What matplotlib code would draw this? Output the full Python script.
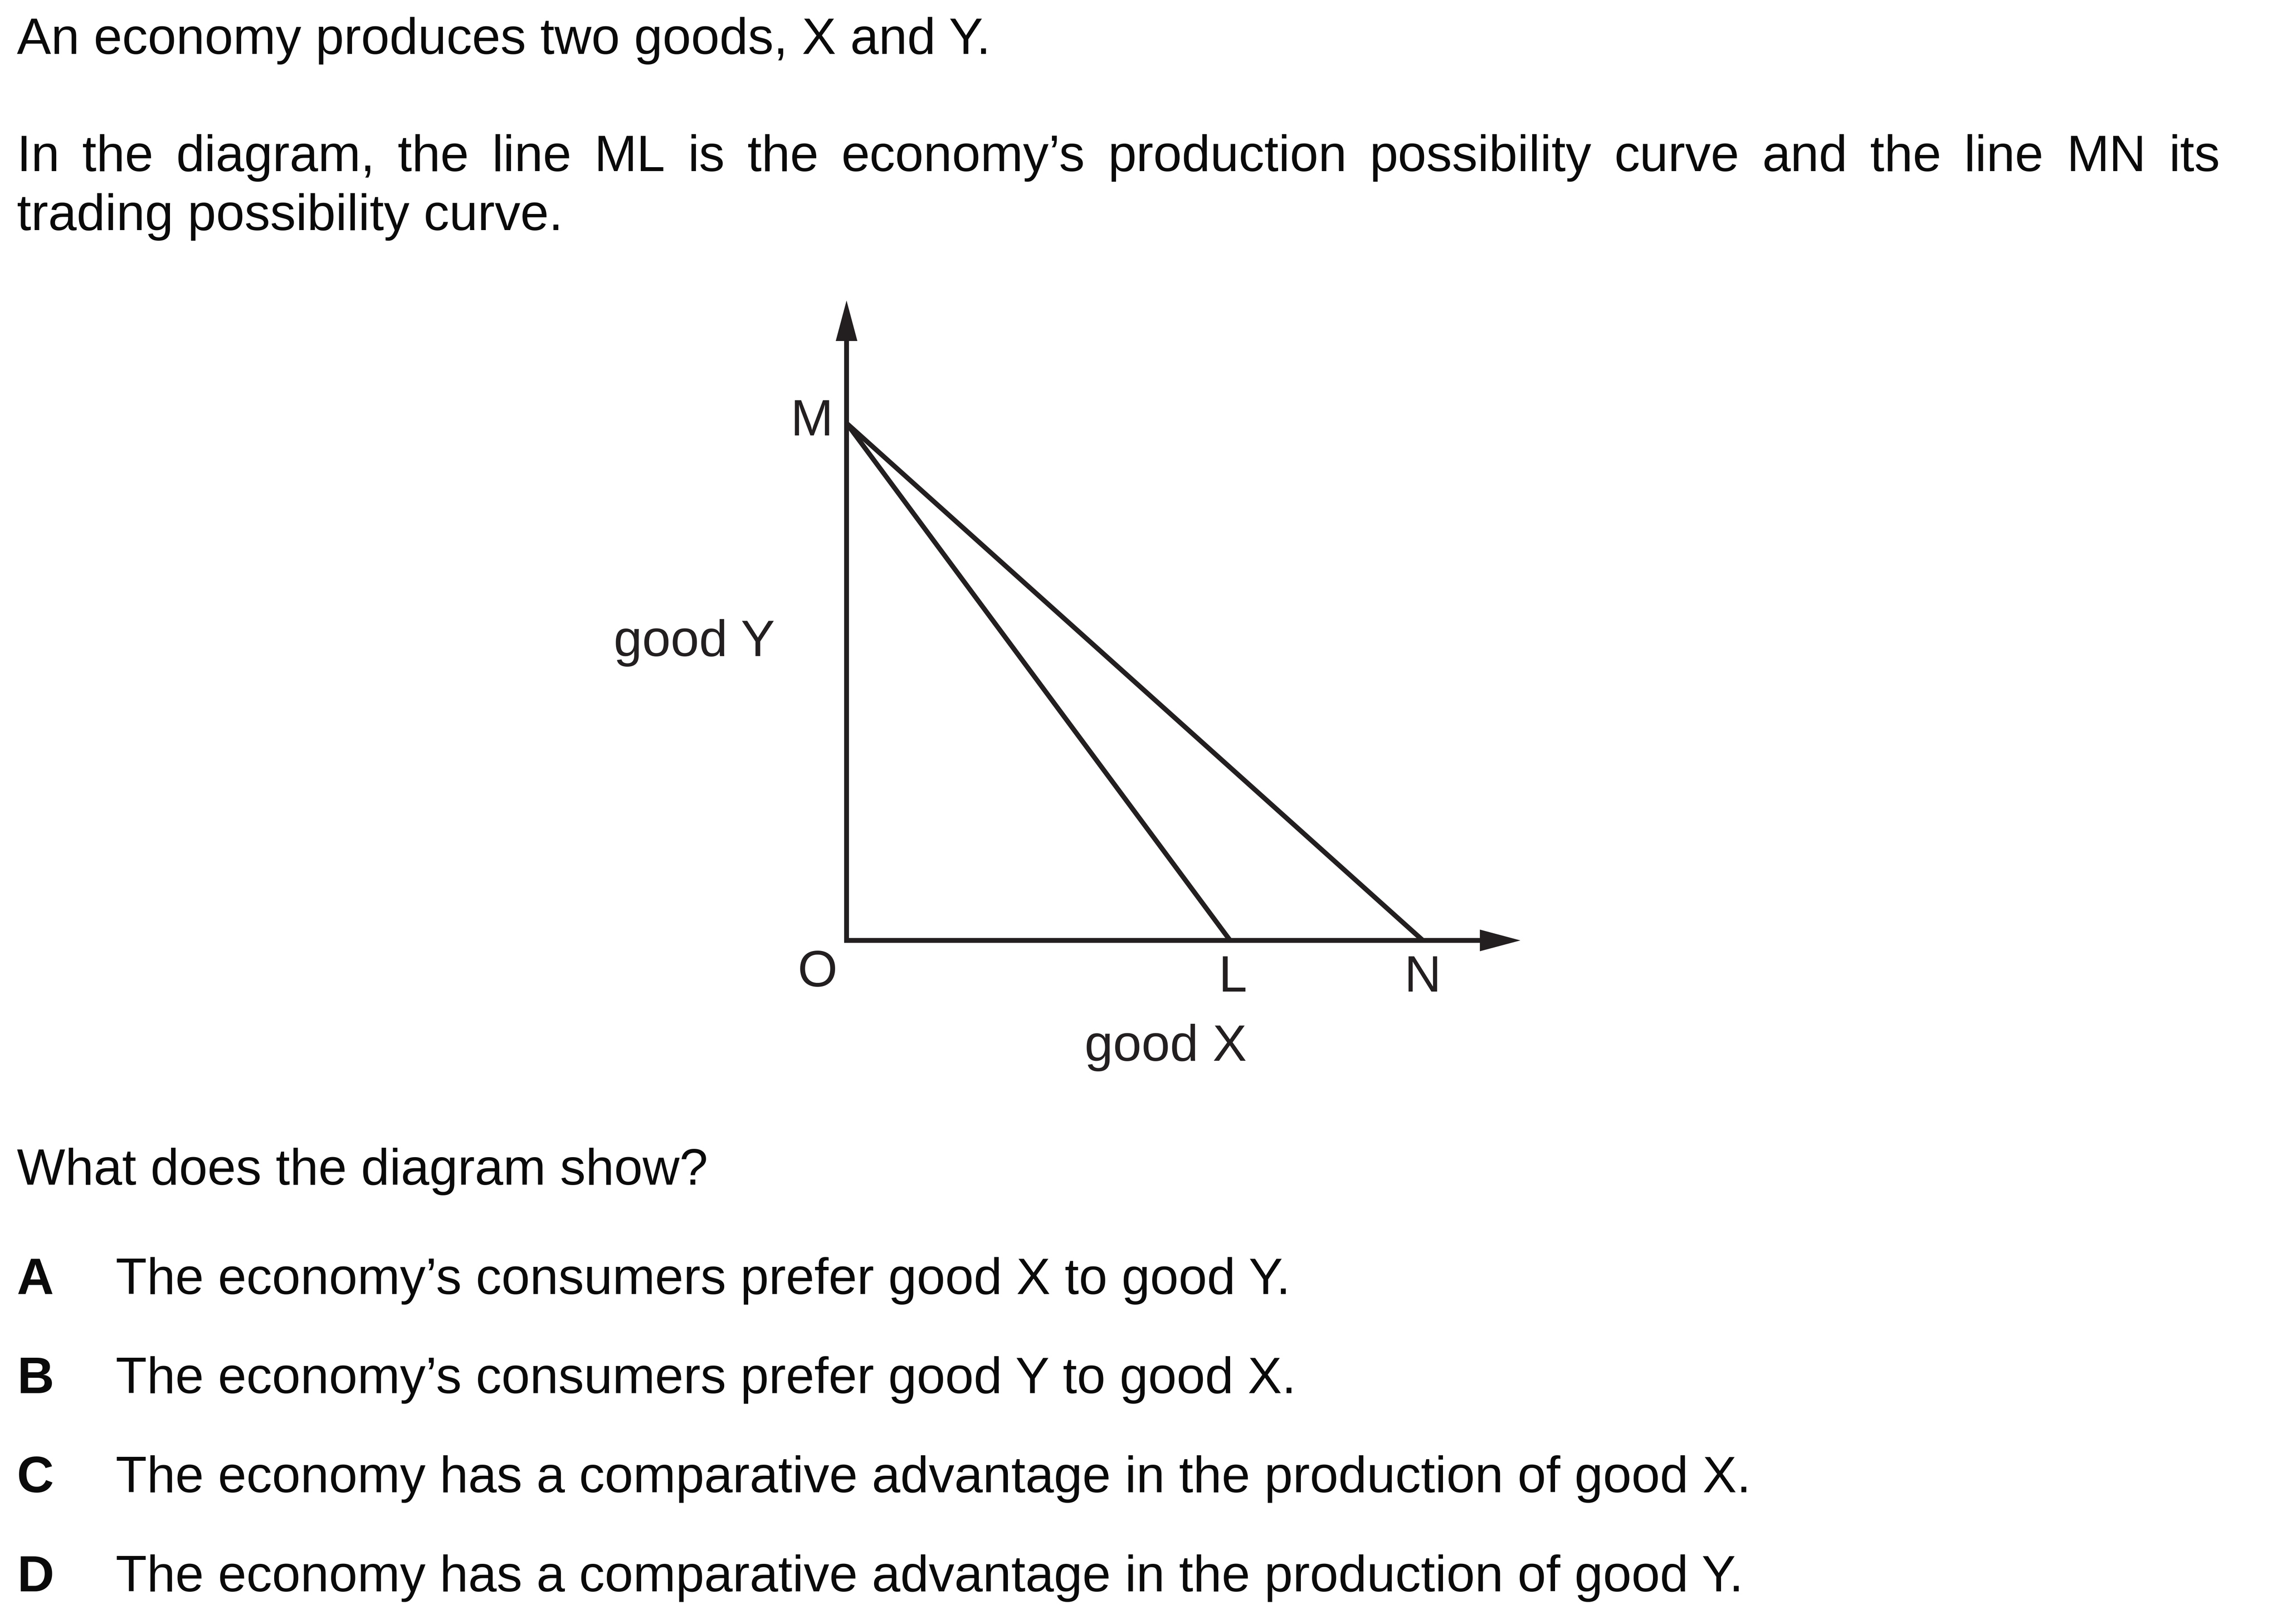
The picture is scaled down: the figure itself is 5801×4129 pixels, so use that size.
import matplotlib
matplotlib.use("Agg")
import matplotlib.pyplot as plt
from matplotlib.patches import Polygon

# ---------------- text content ----------------
intro_line = "An economy produces two goods, X and Y."
para_lines = [
    "In the diagram, the line ML is the economy\u2019s production possibility curve and the line MN its",
    "trading possibility curve.",
]
question = "What does the diagram show?"
option_keys = ["A", "B", "C", "D"]
option_texts = [
    "The economy\u2019s consumers prefer good X to good Y.",
    "The economy\u2019s consumers prefer good Y to good X.",
    "The economy has a comparative advantage in the production of good X.",
    "The economy has a comparative advantage in the production of good Y.",
]

# ---------------- diagram data (arbitrary units) ----------------
point_labels = ["M", "O", "L", "N"]
axis_labels = ["good X", "good Y"]
x_axis_extent = 17.13
y_axis_extent = 16.27
M_y = 13.15      # intercept of both lines on good-Y axis
L_x = 9.75       # production possibility curve intercept on good-X axis
N_x = 14.65      # trading possibility curve intercept on good-X axis

# ---------------- figure ----------------
W, H = 5801, 4129
DPI = 100
fig = plt.figure(figsize=(W / DPI, H / DPI), dpi=DPI)
fig.patch.set_facecolor("white")

FONT = "Liberation Sans"
FS = 93.6
TXT = "#0a0a0a"
INK = "#231f20"
LW = 8.9


def fx(x):
    return x / W


def fy(y):
    return 1 - y / H


renderer = fig.canvas.get_renderer()

LEFT = 43
# intro line
fig.text(fx(LEFT), fy(137), intro_line, fontsize=FS, family=FONT, color=TXT,
         ha="left", va="baseline")

# justified paragraph line
RIGHT = 5643
words = para_lines[0].split(" ")
objs = []
widths = []
for w in words:
    t = fig.text(0, 0, w, fontsize=FS, family=FONT, color=TXT, ha="left", va="baseline")
    objs.append(t)
    widths.append(t.get_window_extent(renderer).width)
gap = (RIGHT - LEFT - sum(widths)) / (len(words) - 1)
x = LEFT
for t, wd in zip(objs, widths):
    t.set_position((fx(x), fy(435)))
    x += wd + gap

fig.text(fx(LEFT), fy(585), para_lines[1], fontsize=FS, family=FONT, color=TXT,
         ha="left", va="baseline")

fig.text(fx(LEFT), fy(3012), question, fontsize=FS, family=FONT, color=TXT,
         ha="left", va="baseline")

opt_y = [3290, 3542, 3794, 4046]
for k, s, y in zip(option_keys, option_texts, opt_y):
    fig.text(fx(LEFT), fy(y), k, fontsize=FS, family=FONT, color=TXT,
             fontweight="bold", ha="left", va="baseline")
    fig.text(fx(294), fy(y), s, fontsize=FS, family=FONT, color=TXT,
             ha="left", va="baseline")

# ---------------- diagram ----------------
ox, oy = 2152, 2391
ax = fig.add_axes([fx(ox), fy(oy), 1713 / W, 1627 / H])
ax.set_xlim(0, x_axis_extent)
ax.set_ylim(0, y_axis_extent)
ax.axis("off")

head_len = 1.03
head_hw = 0.275

ax.plot([0, 0, x_axis_extent - head_len * 0.5],
        [y_axis_extent - head_len * 0.5, 0, 0],
        color=INK, lw=LW, solid_joinstyle="miter", solid_capstyle="butt", clip_on=False)
ax.add_patch(Polygon([(-head_hw, y_axis_extent - head_len), (0, y_axis_extent),
                      (head_hw, y_axis_extent - head_len)], closed=True,
                     fc=INK, ec="none", clip_on=False))
ax.add_patch(Polygon([(x_axis_extent - head_len, -head_hw), (x_axis_extent, 0),
                      (x_axis_extent - head_len, head_hw)], closed=True,
                     fc=INK, ec="none", clip_on=False))

ax.plot([0, L_x], [M_y, 0], color=INK, lw=LW, solid_capstyle="butt", clip_on=False)
ax.plot([0, N_x], [M_y, 0], color=INK, lw=LW, solid_capstyle="butt", clip_on=False)

lab_kw = dict(fontsize=FS, family=FONT, color=INK, ha="center", va="baseline", clip_on=False)
label_pos = {
    "M": (-0.885, M_y - 0.31),
    "O": (-0.74, -1.17),
    "L": (L_x + 0.07, -1.30),
    "N": (N_x - 0.01, -1.30),
}
for name in point_labels:
    ax.text(*label_pos[name], name, **lab_kw)

ax.text(8.11, -3.06, axis_labels[0], **lab_kw)
ax.text(-3.87, 7.23, axis_labels[1], **lab_kw)

fig.savefig("out.png", dpi=DPI, facecolor="white")
